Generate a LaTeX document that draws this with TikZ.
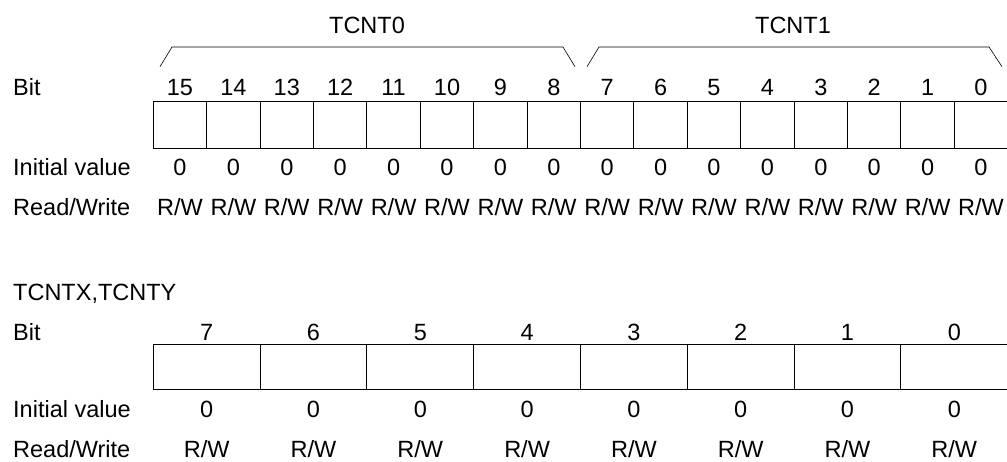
\documentclass[tikz,border=0pt]{standalone}
\usepackage{fontspec}
\setmainfont{Liberation Sans}
\usetikzlibrary{positioning}
\tikzset{
  regcell/.style={draw,line width=0.9pt,minimum width=#1,minimum height=47pt,
    inner sep=0pt,outer sep=0pt},
  celltxt/.style={anchor=base,inner sep=0pt},
  rowlbl/.style={anchor=base west,inner sep=0pt},
}
\begin{document}
\begin{tikzpicture}[x=1pt,y=1pt,font=\fontsize{23.5}{28}\selectfont]
  \useasboundingbox (0,0) rectangle (1007,-461);
  % 16-bit register TCNT0/TCNT1
  \node[celltxt] (hname0) at (367,-33) {TCNT0};
  \node[celltxt] (hname1) at (793,-33) {TCNT1};
  \draw[line width=0.6pt] (160,-66.7) -- (172,-47) -- (563,-47) -- (575,-66.7);
  \draw[line width=0.6pt] (587,-66.7) -- (599,-47) -- (989,-47) -- (1002,-66.7);
  \node[rowlbl] (hbitlbl) at (13,-95) {Bit};
  \node[rowlbl] (hinilbl) at (13,-175) {Initial value};
  \node[rowlbl] (hrwlbl) at (13,-215) {Read/Write};
  \foreach \i in {0,...,15} {
    \pgfmathsetmacro\cx{153.3+53.4*(\i+0.5)}
    \pgfmathtruncatemacro\b{15-\i}
    \node[regcell=53.4pt] (hc\b) at (\cx,-124.5) {};
    \node[celltxt] (hb\b) at (\cx,-95) {\b};
    \node[celltxt] (hi\b) at (\cx,-175) {0};
    \node[celltxt] (hr\b) at (\cx,-215) {R/W};
  }
  % 8-bit registers TCNTX, TCNTY
  \node[rowlbl] (lname) at (13,-300) {TCNTX,TCNTY};
  \node[rowlbl] (lbitlbl) at (13,-340) {Bit};
  \node[rowlbl] (linilbl) at (13,-417) {Initial value};
  \node[rowlbl] (lrwlbl) at (13,-457) {Read/Write};
  \foreach \i in {0,...,7} {
    \pgfmathsetmacro\cx{153.3+106.8*(\i+0.5)}
    \pgfmathtruncatemacro\b{7-\i}
    \node[regcell=106.8pt,minimum height=45pt] (lc\b) at (\cx,-366.5) {};
    \node[celltxt] (lb\b) at (\cx,-340) {\b};
    \node[celltxt] (li\b) at (\cx,-417) {0};
    \node[celltxt] (lr\b) at (\cx,-457) {R/W};
  }
\end{tikzpicture}
\end{document}
